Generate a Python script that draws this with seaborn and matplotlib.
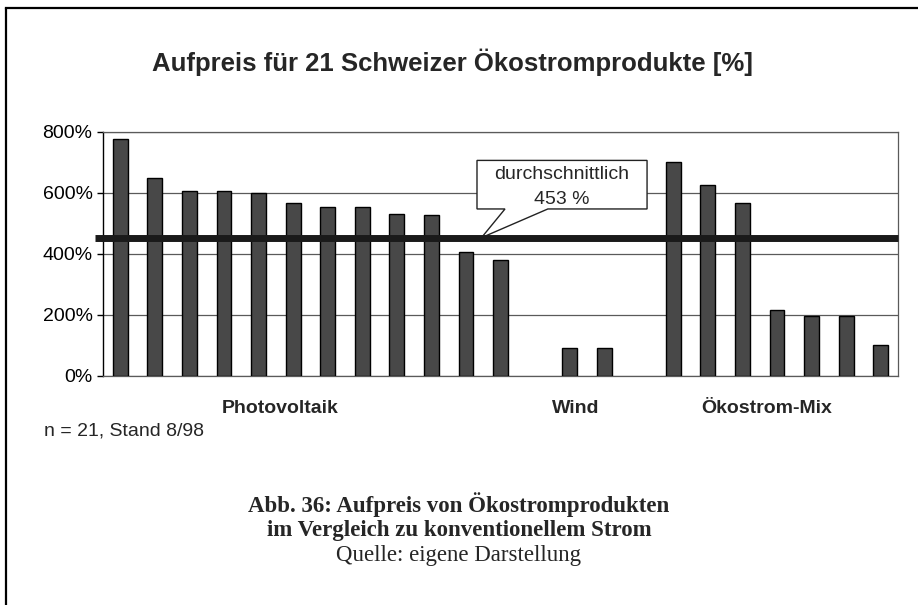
import numpy as np
import pandas as pd
import matplotlib
matplotlib.use("Agg")
import matplotlib.pyplot as plt
from matplotlib.lines import Line2D
from matplotlib.patches import Polygon
from matplotlib.ticker import FuncFormatter
import seaborn as sns

# --- data -------------------------------------------------------------
pv_values = [775, 650, 605, 605, 600, 565, 552, 552, 532, 527, 407, 379]
wind_values = [92, 92]
mix_values = [700, 624, 565, 215, 198, 198, 100]
group_names = ["Photovoltaik", "Wind", "Ökostrom-Mix"]
average = 453
yticks = [0, 200, 400, 600, 800]

title = "Aufpreis für 21 Schweizer Ökostromprodukte [%]"
note = "n = 21, Stand 8/98"
caption_lines = ["Abb. 36: Aufpreis von Ökostromprodukten",
                 "im Vergleich zu konventionellem Strom"]
source = "Quelle: eigene Darstellung"

# --- table ------------------------------------------------------------
pv_ids = [f"PV {i + 1}" for i in range(len(pv_values))]
wind_ids = [f"Wind {i + 1}" for i in range(len(wind_values))]
mix_ids = [f"Mix {i + 1}" for i in range(len(mix_values))]
df = pd.DataFrame({
    "produkt": pv_ids + wind_ids + mix_ids,
    "aufpreis": pv_values + wind_values + mix_values,
})
# blank slots separate the three product groups
order = pv_ids + ["_gap1"] + wind_ids + ["_gap2"] + mix_ids

sns.set_style("white")
plt.rcParams["font.family"] = ["Liberation Sans", "DejaVu Sans"]

W, H = 918, 605
fig = plt.figure(figsize=(W / 100, H / 100), dpi=100)
ax = fig.add_axes([103 / W, (H - 376) / H, 795 / W, (376 - 131.7) / H])

sns.barplot(data=df, x="produkt", y="aufpreis", order=order, ax=ax,
            color="#484848", saturation=1, width=0.43,
            edgecolor="black", linewidth=1, zorder=3)

ax.set_xlim(-0.5, len(order) - 0.5)
ax.set_ylim(0, 800)
ax.set_yticks(yticks)
ax.yaxis.set_major_formatter(FuncFormatter(lambda v, _: f"{v:.0f}%"))
ax.set_xticks([])
ax.set_xlabel("")
ax.set_ylabel("")
ax.tick_params(axis="y", which="major", left=True, length=4, width=1,
               color="black", pad=3.5, labelsize=14, labelcolor="black")

grid_color = "#5a5a5a"
ax.yaxis.grid(True, color=grid_color, linewidth=0.9, zorder=0)
ax.set_axisbelow(True)
for side in ("top", "right", "bottom"):
    ax.spines[side].set_visible(True)
    ax.spines[side].set_color(grid_color)
    ax.spines[side].set_linewidth(0.9)
ax.spines["left"].set_color("black")
ax.spines["left"].set_linewidth(1)

# group labels beneath the bars
group_x = [4.62, 13.17, 18.7]
for gx, name in zip(group_x, group_names):
    ax.text(gx, -0.134, name, transform=ax.get_xaxis_transform(),
            ha="center", va="center", fontsize=14, fontweight="bold")

# average line and its callout
ax.axhline(average, xmin=-0.01, xmax=1, color="#1a1a1a", linewidth=5,
           solid_capstyle="butt", clip_on=False, zorder=6)

bx0, bx1, by0, by1 = 10.32, 15.24, 547, 706
pa, pb, tip_x = 11.13, 12.37, 10.45
callout = Polygon([(bx0, by1), (bx1, by1), (bx1, by0), (pb, by0),
                   (tip_x, average), (pa, by0), (bx0, by0)],
                  closed=True, facecolor="white", edgecolor="#222222",
                  linewidth=1, zorder=5)
ax.add_patch(callout)
ax.text((bx0 + bx1) / 2, 659, "durchschnittlich", ha="center", va="center",
        fontsize=14, zorder=7)
ax.text((bx0 + bx1) / 2, 577, f"{average} %", ha="center", va="center",
        fontsize=14, zorder=7)

# figure texts
fig.text(453 / W, 1 - 62 / H, title, ha="center", va="center",
         fontsize=18.5, fontweight="bold")
fig.text(44 / W, 1 - 431 / H, note, ha="left", va="center", fontsize=14)

serif = ["Liberation Serif", "DejaVu Serif"]
for i, line in enumerate(caption_lines):
    fig.text(459 / W, 1 - (505 + 25.5 * i) / H, line, ha="center", va="center",
             fontsize=16.5, fontweight="bold", family=serif)
fig.text(459 / W, 1 - 556 / H, source, ha="center", va="center",
         fontsize=16.5, family=serif)

# outer frame (left and top edge)
fig.add_artist(Line2D([6 / W, 6 / W], [0, 1 - 7.5 / H], transform=fig.transFigure,
                      color="black", linewidth=1.6))
fig.add_artist(Line2D([6 / W, 1], [1 - 7.5 / H, 1 - 7.5 / H],
                      transform=fig.transFigure, color="black", linewidth=1.6,
                      solid_capstyle="projecting"))

fig.savefig("out.png", dpi=100)
